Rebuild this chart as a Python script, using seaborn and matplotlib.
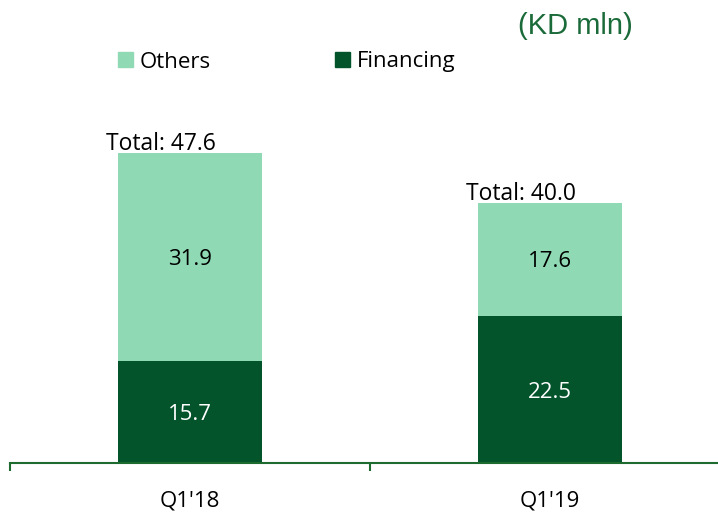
import matplotlib
matplotlib.use('Agg')
import pandas as pd
import matplotlib.pyplot as plt
import seaborn as sns
from matplotlib.patches import Patch

quarters = ["Q1'18", "Q1'19"]
financing = [15.7, 22.5]
others = [31.9, 17.6]
totals = [47.6, 40.0]

light = '#8FDAB4'
dark = '#03532B'
axis_green = '#1E6B30'

df = pd.DataFrame({'Quarter': quarters, 'Financing': financing,
                   'Others': others, 'Total': totals})

sns.set_style('white')
plt.rcParams['font.family'] = ['Open Sans', 'DejaVu Sans']

fig = plt.figure(figsize=(7.18, 5.13), dpi=100)
ax = fig.add_axes([10 / 718, 50 / 513, 720 / 718, 463 / 513])

# stacked look: totals in light colour, financing drawn over the bottom part
sns.barplot(data=df, x='Quarter', y='Total', color=light, width=0.4,
            saturation=1, linewidth=0, ax=ax)
sns.barplot(data=df, x='Quarter', y='Financing', color=dark, width=0.4,
            saturation=1, linewidth=0, ax=ax)

fs = 16
for i, row in df.iterrows():
    ax.text(i, row['Financing'] / 2, f"{row['Financing']:.1f}", ha='center',
            va='center_baseline', color='white', fontsize=fs)
    ax.text(i, row['Financing'] + row['Others'] / 2, f"{row['Others']:.1f}",
            ha='center', va='center_baseline', color='black', fontsize=fs)
    ax.text(i - 0.08, row['Total'] - 0.5, f"Total: {row['Total']:.1f}",
            ha='center', va='bottom', color='black', fontsize=16.5)

ax.set_xlim(-0.5, 1.5)
ax.set_ylim(0, 71.1)
ax.set_xlabel('')
ax.set_ylabel('')
ax.set_yticks([])
for s in ['top', 'right', 'left']:
    ax.spines[s].set_visible(False)
ax.spines['bottom'].set_color(axis_green)
ax.spines['bottom'].set_linewidth(1.5)
ax.tick_params(axis='x', which='major', length=0, pad=20, labelsize=fs,
               labelcolor='black')
ax.set_xticks([-0.5, 0.5, 1.5], minor=True)
ax.tick_params(axis='x', which='minor', length=6, width=1.5, color=axis_green,
               bottom=True)

handles = [Patch(color=light, label='Others'), Patch(color=dark, label='Financing')]
leg = fig.legend(handles=handles, loc='center left',
                 bbox_to_anchor=(118 / 718, 1 - 62 / 513), ncol=2, frameon=False,
                 fontsize=16, handlelength=0.68, handleheight=0.68,
                 handletextpad=0.3, columnspacing=5.6, borderaxespad=0, borderpad=0)
for t in leg.get_texts():
    t.set_color('black')

fig.text(575 / 718, 1 - 26 / 513, '(KD mln)', color='#1B6B3A', fontsize=21,
         ha='center', va='center', family=['Liberation Sans', 'DejaVu Sans'])

fig.savefig('out.png', dpi=100)
